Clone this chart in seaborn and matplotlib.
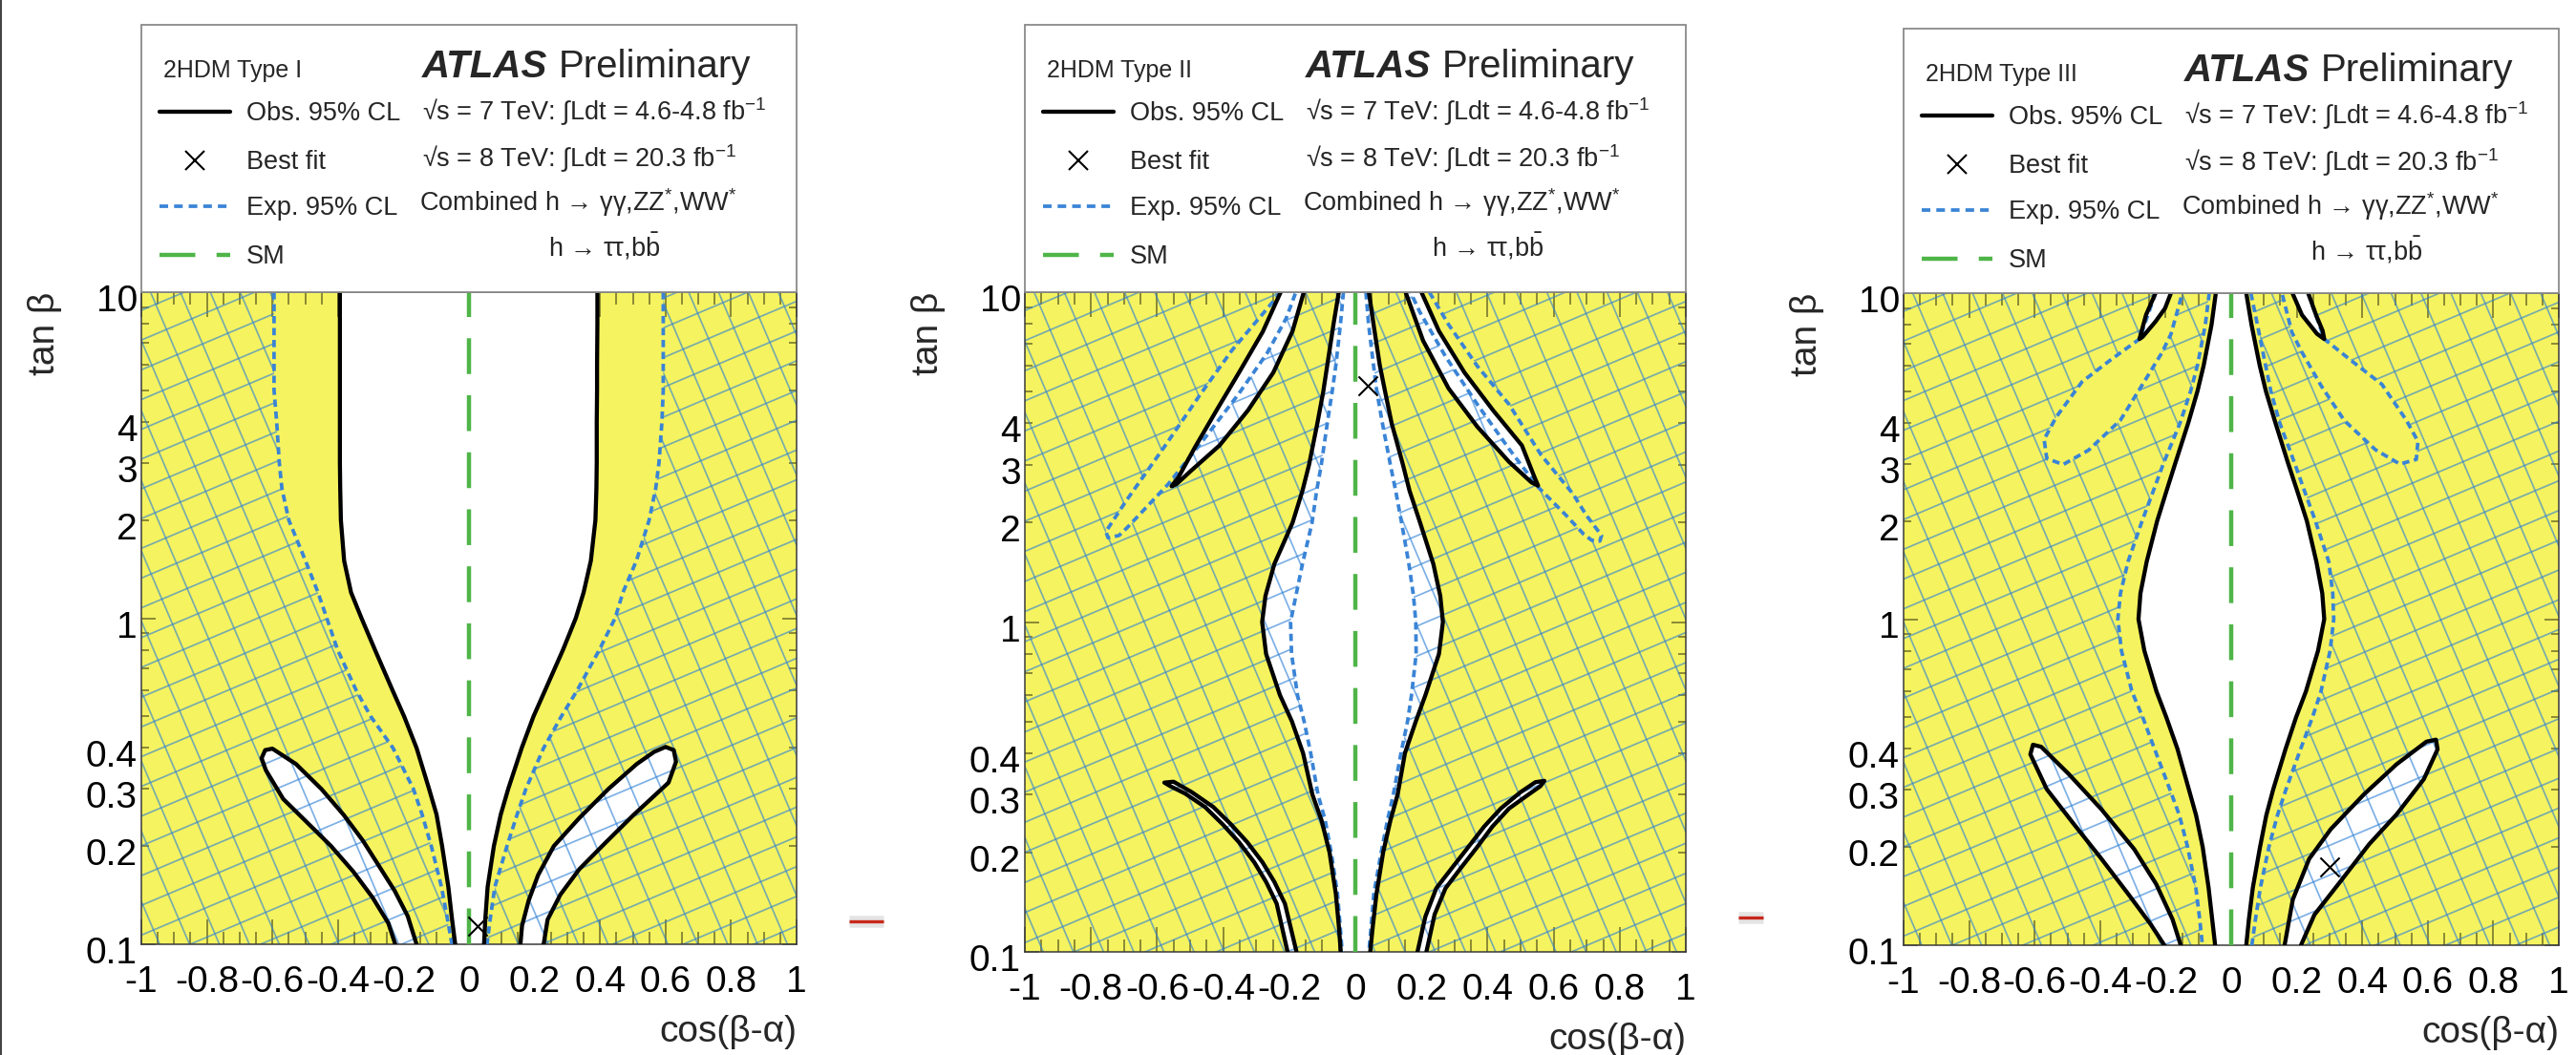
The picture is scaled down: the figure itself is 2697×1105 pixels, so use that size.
import numpy as np
import matplotlib
matplotlib.use("Agg")
import matplotlib.pyplot as plt
import seaborn as sns
from matplotlib.path import Path
from matplotlib.patches import PathPatch, Rectangle
from matplotlib.collections import LineCollection
from matplotlib.lines import Line2D
from matplotlib.text import Annotation
from matplotlib.ticker import FixedLocator, FixedFormatter, MultipleLocator, FuncFormatter
from matplotlib.transforms import ScaledTranslation

# ---------------------------------------------------------------- data
# tan(beta) levels at which the central band edges are given
TANB = [10, 8, 6, 5, 4, 3, 2.5, 2, 1.5, 1.2, 1, 0.8, 0.6, 0.5, 0.4, 0.3, 0.25, 0.2, 0.15, 0.12, 0.1]

# --- Type I: cos(beta-alpha) of the band edges
OBS_I_LEFT = [-0.394, -0.394, -0.394, -0.394, -0.394, -0.394, -0.393, -0.391, -0.381, -0.360, -0.328,
              -0.287, -0.233, -0.198, -0.160, -0.122, -0.099, -0.082, -0.063, -0.052, -0.042]
OBS_I_RIGHT = [0.392, 0.392, 0.391, 0.391, 0.390, 0.390, 0.389, 0.386, 0.372, 0.350, 0.326,
               0.287, 0.232, 0.197, 0.161, 0.120, 0.097, 0.076, 0.057, 0.050, 0.046]
EXP_I_LEFT = [-0.595, -0.595, -0.595, -0.595, -0.587, -0.579, -0.571, -0.550, -0.499, -0.461, -0.434,
              -0.401, -0.344, -0.300, -0.232, -0.170, -0.143, -0.115, -0.084, -0.066, -0.052]
EXP_I_RIGHT = [0.593, 0.593, 0.593, 0.593, 0.589, 0.580, 0.570, 0.550, 0.511, 0.470, 0.446,
               0.398, 0.330, 0.282, 0.228, 0.174, 0.147, 0.116, 0.079, 0.065, 0.055]
# observed allowed islands (outline, cos(beta-alpha) / tan(beta))
ISL_I_L_X = [-0.225, -0.246, -0.294, -0.353, -0.421, -0.499, -0.567, -0.620, -0.633, -0.622, -0.600,
             -0.578, -0.528, -0.450, -0.382, -0.324, -0.275, -0.227, -0.187, -0.160]
ISL_I_L_TB = [0.100, 0.116, 0.139, 0.167, 0.200, 0.239, 0.279, 0.342, 0.372, 0.394, 0.398,
              0.385, 0.357, 0.299, 0.249, 0.208, 0.174, 0.146, 0.122, 0.100]
ISL_I_R_X = [0.157, 0.162, 0.182, 0.211, 0.259, 0.337, 0.425, 0.512, 0.565, 0.600, 0.625,
             0.632, 0.609, 0.502, 0.415, 0.337, 0.279, 0.240, 0.228]
ISL_I_R_TB = [0.100, 0.114, 0.136, 0.163, 0.200, 0.244, 0.299, 0.357, 0.389, 0.403, 0.394,
              0.363, 0.313, 0.249, 0.204, 0.170, 0.142, 0.119, 0.100]
BEST_I = (0.026, 0.114)

# --- Type II
OBS_II_LEFT = [-0.050, -0.066, -0.085, -0.097, -0.115, -0.140, -0.160, -0.190, -0.245, -0.272, -0.282,
               -0.270, -0.228, -0.192, -0.158, -0.130, -0.102, -0.078, -0.059, -0.050, -0.044]
OBS_II_RIGHT = [0.041, 0.055, 0.074, 0.090, 0.110, 0.144, 0.164, 0.196, 0.236, 0.257, 0.265,
                0.253, 0.212, 0.183, 0.150, 0.128, 0.106, 0.084, 0.064, 0.053, 0.045]
EXP_II_LEFT = [-0.036, -0.045, -0.059, -0.070, -0.085, -0.103, -0.117, -0.131, -0.160, -0.180, -0.196,
               -0.193, -0.175, -0.155, -0.135, -0.113, -0.091, -0.073, -0.054, -0.046, -0.040]
EXP_II_RIGHT = [0.032, 0.040, 0.055, 0.065, 0.082, 0.106, 0.122, 0.140, 0.162, 0.176, 0.183,
                0.184, 0.170, 0.158, 0.138, 0.115, 0.097, 0.078, 0.056, 0.048, 0.041]
ISL_II_UL_X = [-0.226, -0.280, -0.350, -0.415, -0.485, -0.535, -0.556, -0.541, -0.498, -0.411,
               -0.325, -0.248, -0.190, -0.156]
ISL_II_UL_TB = [10, 7.59, 5.75, 4.47, 3.39, 2.75, 2.58, 2.62, 2.87, 3.43, 4.38, 5.71, 7.62, 10]
ISL_II_UR_X = [0.152, 0.205, 0.282, 0.369, 0.465, 0.533, 0.553, 0.542, 0.504, 0.417, 0.330, 0.253, 0.200]
ISL_II_UR_TB = [10, 7.13, 5.11, 3.91, 3.06, 2.65, 2.59, 2.75, 3.43, 4.38, 5.71, 7.62, 10]
ISL_II_LL_X = [-0.205, -0.238, -0.270, -0.306, -0.352, -0.402, -0.455, -0.515, -0.560, -0.578,
               -0.550, -0.495, -0.430, -0.377, -0.327, -0.281, -0.245, -0.213, -0.178]
ISL_II_LL_TB = [0.100, 0.140, 0.163, 0.187, 0.215, 0.244, 0.275, 0.302, 0.318, 0.326,
                0.328, 0.305, 0.275, 0.244, 0.215, 0.187, 0.163, 0.140, 0.100]
ISL_II_LR_X = [0.188, 0.212, 0.245, 0.293, 0.342, 0.390, 0.440, 0.500, 0.545, 0.572,
               0.560, 0.520, 0.465, 0.415, 0.369, 0.320, 0.273, 0.240, 0.215]
ISL_II_LR_TB = [0.100, 0.128, 0.156, 0.180, 0.208, 0.240, 0.272, 0.305, 0.327, 0.330,
                0.318, 0.298, 0.272, 0.240, 0.208, 0.180, 0.156, 0.130, 0.100]
# expected allowed wedges
EXP_II_VL_X = [-0.225, -0.267, -0.373, -0.469, -0.575, -0.691, -0.755, -0.748, -0.715, -0.691,
               -0.566, -0.451, -0.354, -0.267, -0.209, -0.180]
EXP_II_VL_TB = [10, 8.91, 6.67, 4.90, 3.43, 2.35, 1.88, 1.80, 1.83, 1.93, 2.62, 3.66, 4.90, 6.53, 8.34, 10]
EXP_II_VR_X = [0.224, 0.282, 0.369, 0.465, 0.562, 0.658, 0.700, 0.745, 0.740, 0.715, 0.690,
               0.639, 0.552, 0.465, 0.369, 0.273, 0.195, 0.167]
EXP_II_VR_TB = [10, 7.98, 5.97, 4.57, 3.21, 2.45, 2.10, 1.83, 1.76, 1.77, 1.85, 2.10, 2.57,
                3.35, 4.57, 6.38, 8.71, 10]
BEST_II = (0.038, 5.2)

# --- Type III
OBS_III_LEFT = [-0.047, -0.060, -0.084, -0.103, -0.131, -0.171, -0.196, -0.226, -0.258, -0.277, -0.283,
                -0.265, -0.228, -0.198, -0.164, -0.129, -0.107, -0.087, -0.069, -0.058, -0.049]
OBS_III_RIGHT = [0.046, 0.062, 0.087, 0.106, 0.135, 0.174, 0.200, 0.231, 0.260, 0.278, 0.284,
                 0.265, 0.228, 0.198, 0.166, 0.128, 0.107, 0.088, 0.066, 0.054, 0.046]
EXP_III_LEFT = [-0.067, -0.079, -0.103, -0.124, -0.156, -0.207, -0.236, -0.272, -0.315, -0.338, -0.346,
                -0.335, -0.303, -0.270, -0.234, -0.187, -0.158, -0.133, -0.108, -0.096, -0.088]
EXP_III_RIGHT = [0.060, 0.080, 0.105, 0.121, 0.148, 0.194, 0.222, 0.257, 0.298, 0.310, 0.313,
                 0.302, 0.274, 0.248, 0.212, 0.167, 0.141, 0.115, 0.089, 0.074, 0.063]
ISL_III_UL_X = [-0.231, -0.260, -0.280, -0.270, -0.231, -0.202, -0.184]
ISL_III_UL_TB = [10, 8.57, 7.23, 7.35, 8.18, 8.98, 10]
ISL_III_UR_X = [0.187, 0.216, 0.262, 0.284, 0.279, 0.259, 0.235]
ISL_III_UR_TB = [10, 8.57, 7.50, 7.23, 7.67, 8.57, 10]
ISL_III_LL_X = [-0.204, -0.246, -0.313, -0.396, -0.480, -0.563, -0.613, -0.605, -0.580,
                -0.496, -0.396, -0.296, -0.229, -0.179, -0.154]
ISL_III_LL_TB = [0.100, 0.116, 0.143, 0.184, 0.235, 0.301, 0.385, 0.412, 0.406,
                 0.335, 0.261, 0.197, 0.154, 0.120, 0.100]
ISL_III_LR_X = [0.163, 0.188, 0.238, 0.304, 0.405, 0.505, 0.596, 0.625, 0.630,
                0.588, 0.505, 0.421, 0.338, 0.254, 0.213]
ISL_III_LR_TB = [0.100, 0.138, 0.184, 0.227, 0.290, 0.359, 0.421, 0.427, 0.399,
                 0.323, 0.252, 0.204, 0.159, 0.124, 0.100]
EXP_III_AL_X = [-0.231, -0.280, -0.367, -0.455, -0.534, -0.571, -0.563, -0.513, -0.435,
                -0.338, -0.271, -0.212, -0.184, -0.149]
EXP_III_AL_TB = [10, 7.23, 6.25, 5.35, 4.17, 3.56, 3.11, 2.98, 3.30, 4.08, 5.24, 6.55, 7.48, 10]
EXP_III_AR_X = [0.235, 0.284, 0.370, 0.460, 0.535, 0.570, 0.565, 0.515, 0.440,
                0.345, 0.275, 0.215, 0.185, 0.155]
EXP_III_AR_TB = [10, 7.23, 6.17, 5.25, 4.07, 3.51, 3.09, 2.99, 3.31, 4.07, 5.19, 6.61, 7.59, 10]
BEST_III = (0.30, 0.174)

# Standard Model line
SM_X = [0.0, 0.0]
SM_TB = [0.1, 10]

# axis ticks
X_TICKS = [-1, -0.8, -0.6, -0.4, -0.2, 0, 0.2, 0.4, 0.6, 0.8, 1]
X_TICK_LABELS = ["-1", "-0.8", "-0.6", "-0.4", "-0.2", "0", "0.2", "0.4", "0.6", "0.8", "1"]
Y_MAJOR = [0.1, 1, 10]
Y_MAJOR_LABELS = ["0.1", "1", "10"]
Y_MINOR = [0.2, 0.3, 0.4, 0.5, 0.6, 0.7, 0.8, 0.9, 2, 3, 4, 5, 6, 7, 8, 9]
Y_MINOR_LABELED = [0.2, 0.3, 0.4, 2, 3, 4]

# legend texts
MODEL_NAMES = ["2HDM Type I", "2HDM Type II", "2HDM Type III"]
LEG_LABELS = ["Obs. 95% CL", "Best fit", "Exp. 95% CL", "SM"]
INFO_LINES = [r"√s = 7 TeV: ∫Ldt = 4.6-4.8 fb$^{-1}$",
              r"√s = 8 TeV: ∫Ldt = 20.3 fb$^{-1}$",
              r"Combined h → γγ,ZZ$^{*}$,WW$^{*}$",
              r"h → ττ,b$\bar{\mathrm{b}}$"]

# ---------------------------------------------------------------- style
sns.set_theme(style="ticks")
plt.rcParams["font.family"] = ["Liberation Sans", "DejaVu Sans"]
plt.rcParams["mathtext.fontset"] = "custom"
plt.rcParams["mathtext.rm"] = "Liberation Sans"
plt.rcParams["mathtext.it"] = "Liberation Sans:italic"
plt.rcParams["mathtext.bf"] = "Liberation Sans:bold"
plt.rcParams["axes.unicode_minus"] = False
plt.rcParams["lines.scale_dashes"] = False

YELLOW = "#f5f35f"
HATCH_C = (0.18, 0.50, 0.84, 0.62)
BLUE = "#3a84d6"
GREEN = "#4fb548"
TICK_C = (0, 0, 0, 0.55)
LW_OBS, LW_EXP, LW_SM = 3.1, 2.7, 3.2
DASH_EXP = (5.5, 3.5)
DASH_SM = (27, 16)

W, H = 2697, 1105
fig = plt.figure(figsize=(W / 100, H / 100), dpi=100)
fig.patch.set_facecolor("white")


def fpt(x, y):
    return x / W, 1 - y / H


def band(left, right):
    return list(zip(left, TANB)) + list(zip(right[::-1], TANB[::-1]))


def excluded_path(holes):
    """Box in data space with the allowed regions cut out (opposite winding)."""
    verts, codes = [], []

    def add(loop, want_ccw):
        lx = np.array([q[0] for q in loop], float)
        ly = np.log10([q[1] for q in loop])
        area = 0.5 * np.sum(lx * np.roll(ly, -1) - np.roll(lx, -1) * ly)
        if (area > 0) != want_ccw:
            loop = loop[::-1]
        verts.extend(loop)
        verts.append(loop[0])
        codes.extend([Path.MOVETO] + [Path.LINETO] * (len(loop) - 1) + [Path.CLOSEPOLY])

    add([(-1.5, 0.05), (1.5, 0.05), (1.5, 20), (-1.5, 20)], True)
    for h in holes:
        add(h, False)
    return Path(verts, codes)


def hatch_segments(step=0.042, angle=23):
    segs = []
    for a in (angle, angle + 90):
        th = np.deg2rad(a)
        d = np.array([np.cos(th), np.sin(th)])
        n = np.array([-np.sin(th), np.cos(th)])
        for k in range(-40, 41):
            c = np.array([0.5, 0.5]) + k * step * n
            segs.append([c - 1.6 * d, c + 1.6 * d])
    return segs


def trace(ax, xs, ys, color, lw, dashes=None, z=3):
    sns.lineplot(x=list(xs), y=list(ys), sort=False, estimator=None, color=color,
                 linewidth=lw, ax=ax, zorder=z)
    line = ax.lines[-1]
    if dashes:
        line.set_dashes(dashes)
    line.set_solid_joinstyle("round")
    return line


PANELS = [
    dict(box=(148, 306, 834, 989), legend_top=26, name=MODEL_NAMES[0],
         obs_band=(OBS_I_LEFT, OBS_I_RIGHT), exp_band=(EXP_I_LEFT, EXP_I_RIGHT),
         obs_isl=[(ISL_I_L_X, ISL_I_L_TB), (ISL_I_R_X, ISL_I_R_TB)],
         exp_isl=[], best=BEST_I),
    dict(box=(1073, 306, 1765, 997), legend_top=26, name=MODEL_NAMES[1],
         obs_band=(OBS_II_LEFT, OBS_II_RIGHT), exp_band=(EXP_II_LEFT, EXP_II_RIGHT),
         obs_isl=[(ISL_II_UL_X, ISL_II_UL_TB), (ISL_II_UR_X, ISL_II_UR_TB),
                  (ISL_II_LL_X, ISL_II_LL_TB), (ISL_II_LR_X, ISL_II_LR_TB)],
         exp_isl=[(EXP_II_VL_X, EXP_II_VL_TB), (EXP_II_VR_X, EXP_II_VR_TB)], best=BEST_II),
    dict(box=(1993, 307, 2679, 990), legend_top=30, name=MODEL_NAMES[2],
         obs_band=(OBS_III_LEFT, OBS_III_RIGHT), exp_band=(EXP_III_LEFT, EXP_III_RIGHT),
         obs_isl=[(ISL_III_UL_X, ISL_III_UL_TB), (ISL_III_UR_X, ISL_III_UR_TB),
                  (ISL_III_LL_X, ISL_III_LL_TB), (ISL_III_LR_X, ISL_III_LR_TB)],
         exp_isl=[(EXP_III_AL_X, EXP_III_AL_TB), (EXP_III_AR_X, EXP_III_AR_TB)], best=BEST_III),
]


def draw_panel(p):
    l, t, r, b = p["box"]
    ax = fig.add_axes([l / W, 1 - b / H, (r - l) / W, (b - t) / H])
    ax.set_facecolor(YELLOW)
    ax.set_yscale("log")
    ax.set_xlim(-1, 1)
    ax.set_ylim(0.1, 10)

    # observed allowed regions stay white
    obs_loops = [band(*p["obs_band"])] + [list(zip(xs, ys)) for xs, ys in p["obs_isl"]]
    for loop in obs_loops:
        xs, ys = zip(*loop)
        ax.fill(xs, ys, color="white", lw=0, zorder=1)

    # expected exclusion: rotated blue grid outside the expected allowed regions
    exp_loops = [band(*p["exp_band"])] + [list(zip(xs, ys)) for xs, ys in p["exp_isl"]]
    clip = PathPatch(excluded_path(exp_loops), transform=ax.transData,
                     facecolor="none", edgecolor="none")
    grid = LineCollection(hatch_segments(), colors=[HATCH_C], linewidths=1.25,
                          transform=ax.transAxes, zorder=1.5)
    ax.add_collection(grid, autolim=False)
    grid.set_clip_path(clip)

    # expected contours
    for xs in p["exp_band"]:
        trace(ax, xs, TANB, BLUE, LW_EXP, DASH_EXP, z=3)
    for xs, ys in p["exp_isl"]:
        trace(ax, xs, ys, BLUE, LW_EXP, DASH_EXP, z=3)
    # observed contours
    for xs in p["obs_band"]:
        trace(ax, xs, TANB, "black", LW_OBS, z=4)
    for xs, ys in p["obs_isl"]:
        trace(ax, xs, ys, "black", LW_OBS, z=4)
    # SM expectation
    trace(ax, SM_X, SM_TB, GREEN, LW_SM, DASH_SM, z=5)
    # best fit
    sns.scatterplot(x=[p["best"][0]], y=[p["best"][1]], marker="x", s=210, color="black",
                    linewidth=1.5, ax=ax, zorder=6)

    ax.set_xlim(-1, 1)
    ax.set_ylim(0.1, 10)
    ax.set_xlabel("")
    ax.set_ylabel("")

    # ticks
    ax.xaxis.set_major_locator(FixedLocator(X_TICKS))
    ax.xaxis.set_major_formatter(FixedFormatter(X_TICK_LABELS))
    ax.xaxis.set_minor_locator(MultipleLocator(0.05))
    ax.yaxis.set_major_locator(FixedLocator(Y_MAJOR))
    ax.yaxis.set_major_formatter(FixedFormatter(Y_MAJOR_LABELS))
    ax.yaxis.set_minor_locator(FixedLocator(Y_MINOR))
    ax.yaxis.set_minor_formatter(FuncFormatter(
        lambda v, pos: ("%g" % v) if any(abs(v - m) < 1e-9 for m in Y_MINOR_LABELED) else ""))
    ax.tick_params(axis="x", which="major", direction="in", length=19, width=1.1, color=TICK_C,
                   top=True, bottom=True, labelsize=28, pad=16, labelcolor="black")
    ax.tick_params(axis="x", which="minor", direction="in", length=9.5, width=1.1, color=TICK_C,
                   top=True, bottom=True)
    ax.tick_params(axis="y", which="major", direction="in", length=11, width=1.1, color=TICK_C,
                   left=True, right=True, labelsize=28, pad=3, labelcolor="black")
    ax.tick_params(axis="y", which="minor", direction="in", length=6, width=1.1, color=TICK_C,
                   left=True, right=True, labelsize=28, pad=3, labelcolor="black")
    for sp in ax.spines.values():
        sp.set_color("#3a3a3a")
        sp.set_linewidth(1.1)
    shift = ScaledTranslation(0, -6 / 100, fig.dpi_scale_trans)
    for tk in ax.yaxis.get_major_ticks() + ax.yaxis.get_minor_ticks():
        tk.label1.set_transform(tk.label1.get_transform() + shift)

    # axis titles
    ax.text(0, 1, "tan β", rotation=90, fontsize=28, ha="center", va="top",
            transform=ax.transAxes + ScaledTranslation(-1.01, 0, fig.dpi_scale_trans))
    ax.text(1, 0, "cos(β-α)", fontsize=28, ha="right", va="center",
            transform=ax.transAxes + ScaledTranslation(0, -0.92, fig.dpi_scale_trans))
    return ax


def draw_legend(p):
    l, t, r, b = p["box"]
    top = p["legend_top"]
    dy = top - 26
    fig.add_artist(Rectangle(fpt(l, t), (r - l) / W, (t - top) / H, transform=fig.transFigure,
                             facecolor="white", edgecolor="#8a8a8a", linewidth=1.3, zorder=3))
    fig.text(*fpt(l + 23, 81 + dy), p["name"], fontsize=18, va="baseline", ha="left", zorder=5)
    atl = fig.text(*fpt(l + 294, 81 + dy), "ATLAS", fontsize=29, fontweight="bold",
                   fontstyle="italic", va="baseline", ha="left", zorder=5)
    fig.add_artist(Annotation("Preliminary", xy=(1, 0), xycoords=atl, xytext=(8, 0),
                              textcoords="offset points", fontsize=29, va="bottom", ha="left",
                              zorder=5))
    rows = [126, 177, 225, 276]
    for lab, yb in zip(LEG_LABELS, rows):
        fig.text(*fpt(l + 110, yb + dy), lab, fontsize=19.5, va="baseline", ha="left", zorder=5)
    ys = [yb - 9 + dy for yb in rows]
    x1, x2 = l + 19, l + 93
    fig.add_artist(Line2D([x1 / W, x2 / W], [1 - ys[0] / H] * 2, color="black", lw=LW_OBS,
                          transform=fig.transFigure, zorder=5))
    fig.add_artist(Line2D([(l + 56) / W], [1 - ys[1] / H], marker="x", ms=15, mew=1.5,
                          color="black", lw=0, transform=fig.transFigure, zorder=5))
    le = Line2D([x1 / W, x2 / W], [1 - ys[2] / H] * 2, color=BLUE, lw=LW_EXP,
                transform=fig.transFigure, zorder=5)
    le.set_dashes((6.5, 4.5))
    fig.add_artist(le)
    ls = Line2D([x1 / W, x2 / W], [1 - ys[3] / H] * 2, color=GREEN, lw=LW_SM,
                transform=fig.transFigure, zorder=5)
    ls.set_dashes(DASH_SM)
    fig.add_artist(ls)
    info_pos = [(294, 126), (294, 175), (291, 221), (426, 268)]
    for txt, (ox, yb) in zip(INFO_LINES, info_pos):
        fig.text(*fpt(l + ox, yb + dy), txt, fontsize=19.5, va="baseline", ha="left", zorder=5)


for p in PANELS:
    draw_panel(p)
    draw_legend(p)

# slide decorations
fig.add_artist(Line2D([1 / W, 1 / W], [0, 1], color="#444444", lw=1.5, transform=fig.transFigure))
for (xa, xb, yy) in [(889, 925, 965), (1820, 1846, 961)]:
    fig.add_artist(Line2D([xa / W, xb / W], [1 - yy / H] * 2, color="#e4e4e4", lw=9,
                          solid_capstyle="butt", transform=fig.transFigure))
    fig.add_artist(Line2D([xa / W, xb / W], [1 - yy / H] * 2, color="#c8281c", lw=2.4,
                          solid_capstyle="butt", transform=fig.transFigure))

fig.savefig("out.png", dpi=100, facecolor="white")
